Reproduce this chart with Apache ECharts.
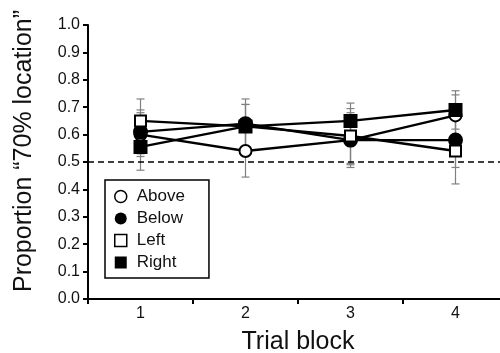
<!DOCTYPE html>
<html><head><meta charset="utf-8">
<script src="https://cdn.jsdelivr.net/npm/echarts@6/dist/echarts.min.js"></script>
<style>html,body{margin:0;padding:0;background:#fff}#c{width:500px;height:353px}</style>
</head><body><div id="c"></div>
<script>
const categories = ['1','2','3','4'];
const yTicks = [0,0.1,0.2,0.3,0.4,0.5,0.6,0.7,0.8,0.9,1.0];
const above = [0.60, 0.54, 0.58, 0.67];
const below = [0.61, 0.64, 0.58, 0.58];
const left  = [0.65, 0.63, 0.595, 0.54];
const right = [0.555, 0.63, 0.65, 0.69];
const aboveErr = [0.08, 0.095, 0.10, 0.075];
const belowErr = [0.08, 0.09, 0.09, 0.10];
const leftErr  = [0.08, 0.08, 0.10, 0.12];
const rightErr = [0.085, 0.08, 0.065, 0.07];
const chance = 0.5;

const FONT = '"Liberation Sans", Arial, sans-serif';
const chart = echarts.init(document.getElementById('c'));

function errSeries(vals, errs) {
  return {
    type: 'custom', silent: true, z: 1,
    data: vals.map((v, i) => [i, v - errs[i], v + errs[i]]),
    renderItem: function (params, api) {
      const lo = api.coord([api.value(0), api.value(1)]);
      const hi = api.coord([api.value(0), api.value(2)]);
      const w = 4;
      const st = { stroke: '#808080', lineWidth: 1.2 };
      return { type: 'group', children: [
        { type: 'line', shape: { x1: lo[0], y1: lo[1], x2: hi[0], y2: hi[1] }, style: st },
        { type: 'line', shape: { x1: lo[0]-w, y1: lo[1], x2: lo[0]+w, y2: lo[1] }, style: st },
        { type: 'line', shape: { x1: hi[0]-w, y1: hi[1], x2: hi[0]+w, y2: hi[1] }, style: st }
      ]};
    }
  };
}
function lineSeries(name, vals, symbol, filled, size) {
  return {
    name, type: 'line', data: vals, z: 3,
    symbol, symbolSize: size, showSymbol: true,
    lineStyle: { color: '#000', width: 2.4 },
    itemStyle: { color: filled ? '#000' : '#fff', borderColor: '#000', borderWidth: 2 },
    emphasis: { disabled: true }
  };
}

const series = [
  errSeries(above, aboveErr), errSeries(below, belowErr),
  errSeries(left, leftErr), errSeries(right, rightErr),
  lineSeries('Above', above, 'circle', false, 12),
  lineSeries('Below', below, 'circle', true, 13),
  lineSeries('Left', left, 'rect', false, 11),
  lineSeries('Right', right, 'rect', true, 12)
];
series[4].markLine = {
  silent: true, symbol: 'none', label: { show: false },
  lineStyle: { color: '#000', type: [6, 4], width: 1.5 },
  data: [{ yAxis: chance }]
};

chart.setOption({
  animation: false,
  grid: { left: 88, top: 25, width: 420, height: 274, containLabel: false, outerBoundsMode: 'none' },
  legend: {
    orient: 'vertical', left: 105, top: 180,
    padding: [8, 24, 7, 9],
    borderColor: '#000', borderWidth: 1.5,
    itemGap: 5, itemWidth: 12, itemHeight: 12,
    textStyle: { fontFamily: FONT, fontSize: 17, color: '#111', padding: [0, 0, 0, 5] },
    data: [
      { name: 'Above', icon: 'circle', itemStyle: { color: '#fff', borderColor: '#000', borderWidth: 1.5 } },
      { name: 'Below', icon: 'circle', itemStyle: { color: '#000', borderColor: '#000', borderWidth: 0 } },
      { name: 'Left', icon: 'rect', itemStyle: { color: '#fff', borderColor: '#000', borderWidth: 1.5 } },
      { name: 'Right', icon: 'rect', itemStyle: { color: '#000', borderColor: '#000', borderWidth: 0 } }
    ]
  },
  xAxis: {
    type: 'category', data: categories, boundaryGap: true,
    name: 'Trial block', nameLocation: 'middle', nameGap: 31,
    nameTextStyle: { fontFamily: FONT, fontSize: 25, color: '#111' },
    axisLine: { lineStyle: { color: '#000', width: 2 } },
    axisTick: { show: true, alignWithLabel: false, length: 5, lineStyle: { width: 2, color: '#000' } },
    axisLabel: { fontFamily: FONT, fontSize: 16, color: '#111', margin: 7 },
    splitLine: { show: false }
  },
  yAxis: {
    type: 'value', min: 0, max: 1, interval: 0.1,
    name: 'Proportion \u201c70% location\u201d', nameLocation: 'middle', nameGap: 51,
    nameTextStyle: { fontFamily: FONT, fontSize: 25, color: '#111', padding: [0, 0, 0, 22] },
    axisLine: { show: true, lineStyle: { color: '#000', width: 2 } },
    axisTick: { show: true, length: 5, lineStyle: { width: 2, color: '#000' } },
    axisLabel: { fontFamily: FONT, fontSize: 16, color: '#111', margin: 8,
      formatter: v => { const t = yTicks.find(x => Math.abs(x - v) < 1e-9); return (t === undefined ? v : t).toFixed(1); } },
    splitLine: { show: false }
  },
  series
});
</script></body></html>
